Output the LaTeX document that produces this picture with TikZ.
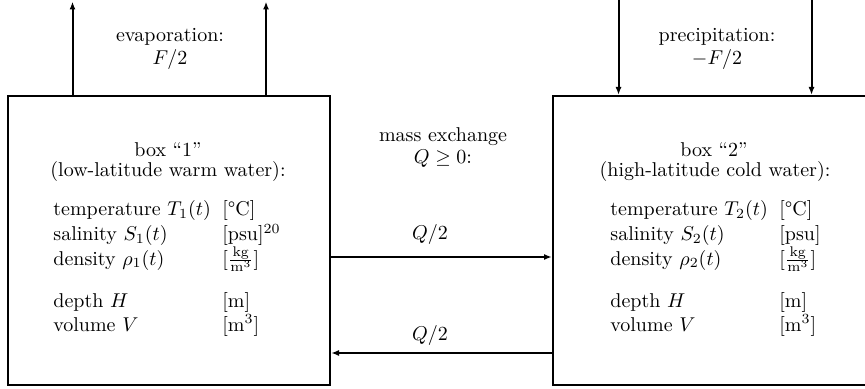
\documentclass[tikz,border=0pt]{standalone}
\usetikzlibrary{arrows.meta}
\begin{document}
\begin{tikzpicture}[x=0.5pt,y=-0.5pt,
  boxline/.style={draw, line width=1pt, inner sep=0pt},
  flow/.style={line width=1pt,-{Latex[length=4pt,width=3pt]}},
  txt/.style={anchor=base, inner sep=0pt},
  rowtxt/.style={anchor=base west, inner sep=0pt}]
\useasboundingbox (0,0) rectangle (865,389);
\clip (0,0) rectangle (865,389);
% boxes
\node[boxline, minimum width=161pt, minimum height=144.5pt] (box1) at (169,240.5) {};
\node[boxline, minimum width=200pt, minimum height=144.5pt] (box2) at (753,240.5) {};
% evaporation
\coordinate (e1) at (72.5,1.5);
\coordinate (e2) at (266,1.5);
\draw[flow] (box1.north -| e1) -- (e1);
\draw[flow] (box1.north -| e2) -- (e2);
\node[txt] (evap) at (170,42) {evaporation:};
\node[txt] (evapF) at (170,65) {$F/2$};
% precipitation
\coordinate (p1) at (618.5,-4);
\coordinate (p2) at (811.5,-4);
\draw[flow] (p1) -- (box2.north -| p1);
\draw[flow] (p2) -- (box2.north -| p2);
\node[txt] (prec) at (717,42) {precipitation:};
\node[txt] (precF) at (717,65) {$-F/2$};
% mass exchange
\node[txt] (mass) at (443,142) {mass exchange};
\node[txt] (massQ) at (443,164) {$Q\geq 0$:};
\coordinate (q1) at (0,257);
\coordinate (q2) at (0,353);
\draw[flow, line width=0.9pt] (box1.east |- q1) -- (box2.west |- q1);
\draw[flow, line width=1.4pt] (box2.west |- q2) -- (box1.east |- q2);
\node[txt] (qa) at (430,240) {$Q/2$};
\node[txt] (qb) at (430,340) {$Q/2$};
% box 1 texts
\node[txt] (t1a) at (168,157) {box ``1''};
\node[txt] (t1b) at (168,177) {(low-latitude warm water):};
\node[rowtxt] (l1a) at (53,216) {temperature $T_1(t)$};
\node[rowtxt] (l1b) at (53,241) {salinity $S_1(t)$};
\node[rowtxt] (l1c) at (53,265) {density $\rho_1(t)$};
\node[rowtxt] (l1d) at (53,307) {depth $H$};
\node[rowtxt] (l1e) at (53,331) {volume $V$};
\node[rowtxt] (u1a) at (222,216) {[\textdegree C]};
\node[rowtxt] (u1b) at (222,241) {[psu]$^{20}$};
\node[rowtxt] (u1c) at (222,265) {$[\frac{\mathrm{kg}}{\mathrm{m}^3}]$};
\node[rowtxt] (u1d) at (222,307) {[m]};
\node[rowtxt] (u1e) at (222,331) {[m$^3$]};
% box 2 texts
\node[txt] (t2a) at (714,157) {box ``2''};
\node[txt] (t2b) at (715,177) {(high-latitude cold water):};
\node[rowtxt] (l2a) at (610,216) {temperature $T_2(t)$};
\node[rowtxt] (l2b) at (610,241) {salinity $S_2(t)$};
\node[rowtxt] (l2c) at (610,265) {density $\rho_2(t)$};
\node[rowtxt] (l2d) at (610,307) {depth $H$};
\node[rowtxt] (l2e) at (610,331) {volume $V$};
\node[rowtxt] (u2a) at (779,216) {[\textdegree C]};
\node[rowtxt] (u2b) at (779,241) {[psu]};
\node[rowtxt] (u2c) at (779,265) {$[\frac{\mathrm{kg}}{\mathrm{m}^3}]$};
\node[rowtxt] (u2d) at (779,307) {[m]};
\node[rowtxt] (u2e) at (779,331) {[m$^3$]};
\end{tikzpicture}
\end{document}
